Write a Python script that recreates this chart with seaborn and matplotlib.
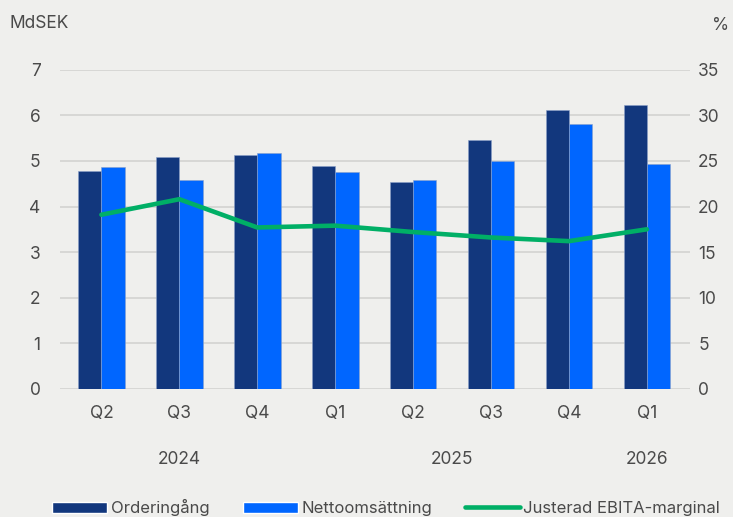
import numpy as np
import pandas as pd
import matplotlib
matplotlib.use("Agg")
import matplotlib.pyplot as plt
import seaborn as sns
from matplotlib.patches import Patch
from matplotlib.lines import Line2D

# Data
periods = ["Q2 2024", "Q3 2024", "Q4 2024", "Q1 2025", "Q2 2025", "Q3 2025", "Q4 2025", "Q1 2026"]
quarters = ["Q2", "Q3", "Q4", "Q1", "Q2", "Q3", "Q4", "Q1"]
orderingang = [4.78, 5.09, 5.13, 4.89, 4.54, 5.46, 6.12, 6.23]
nettoomsattning = [4.87, 4.58, 5.18, 4.76, 4.58, 5.00, 5.81, 4.94]
ebita_marginal = [19.1, 20.8, 17.7, 17.9, 17.2, 16.6, 16.2, 17.5]
years = ["2024", "2025", "2026"]
year_pos = [1, 4.5, 7]

bg = "#EFEFED"
dark = "#12377D"
blue = "#0066FF"
green = "#00AF66"
txt = "#4a4a4a"

sns.set_theme(style="white")
plt.rcParams["font.family"] = ["Inter", "DejaVu Sans"]

df = pd.DataFrame({
    "period": periods * 2,
    "value": orderingang + nettoomsattning,
    "serie": ["Orderingång"] * 8 + ["Nettoomsättning"] * 8,
})

fig = plt.figure(figsize=(7.33, 5.17), dpi=100, facecolor=bg)
ax = fig.add_axes([0.082, 0.248, 0.859, 0.617])
ax.set_facecolor(bg)

sns.barplot(data=df, x="period", y="value", hue="serie", order=periods,
            palette=[dark, blue], width=0.6, ax=ax, legend=False,
            edgecolor="#8aa0c8", linewidth=0.4, saturation=1)
ax.set_ylim(0, 7)
ax.set_yticks(range(0, 8))
ax.yaxis.grid(True, color="#D3D3D1", linewidth=1.2)
ax.set_axisbelow(True)
ax.set_xlabel("")
ax.set_ylabel("")
ax.set_xticks(range(8))
ax.set_xticklabels(quarters)
ax.tick_params(axis="both", length=0, labelsize=12.5, labelcolor=txt)
ax.tick_params(axis="x", pad=12)
ax.tick_params(axis="y", pad=14)
for s in ax.spines.values():
    s.set_visible(False)

ax2 = ax.twinx()
sns.lineplot(x=np.arange(8), y=ebita_marginal, ax=ax2, color=green, linewidth=3.3)
ax2.set_ylim(0, 35)
ax2.set_yticks(range(0, 36, 5))
ax2.tick_params(axis="y", length=0, labelsize=12.5, labelcolor=txt, pad=6)
for s in ax2.spines.values():
    s.set_visible(False)
ax.set_xlim(-0.53, 7.55)

for y, xp in zip(years, year_pos):
    ax.text(xp, -0.223, y, transform=ax.get_xaxis_transform(), ha="center",
            va="center", fontsize=12.5, color=txt)

fig.text(0.013, 0.955, "MdSEK", fontsize=12.5, color=txt, va="center")
fig.text(0.972, 0.95, "%", fontsize=12.5, color=txt, va="center")

handles = [Patch(facecolor=dark), Patch(facecolor=blue),
           Line2D([0], [0], color=green, linewidth=3.3)]
labels = ["Orderingång", "Nettoomsättning", "Justerad EBITA-marginal"]
fig.legend(handles, labels, loc="center", bbox_to_anchor=(0.527, 0.018), ncol=3,
           frameon=False, fontsize=12, labelcolor=txt, handlelength=3.3,
           handleheight=0.7, handletextpad=0.2, columnspacing=2.0,
           borderpad=0, borderaxespad=0)

fig.savefig("out.png", dpi=100, facecolor=bg)
